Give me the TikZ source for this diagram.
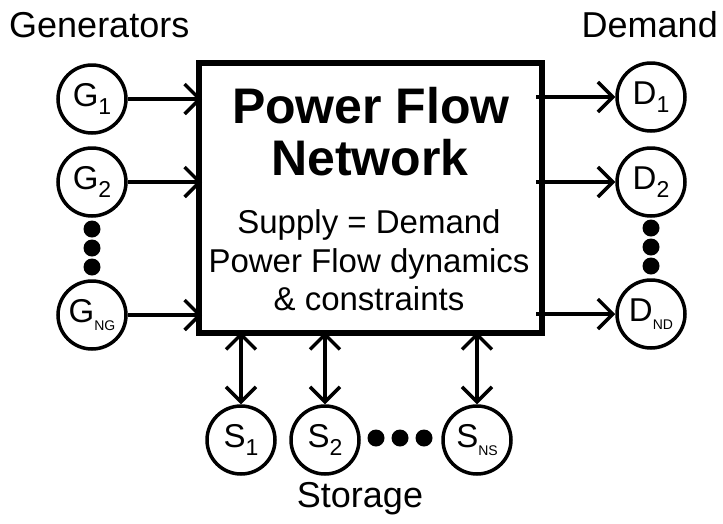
\documentclass[tikz,border=0pt]{standalone}
\usepackage{fontspec}
\setmainfont{Liberation Sans}
\usetikzlibrary{arrows.meta,calc}
\newcommand\lblsub[2]{#1\raisebox{-8pt}{\fontsize{23}{23}\selectfont #2}}
\newcommand\lblsmall[2]{#1\raisebox{-8pt}{\fontsize{14}{14}\selectfont #2}}
\tikzset{
  unit/.style={circle,draw,line width=3.5pt,minimum size=68pt,inner sep=0pt,font=\fontsize{33}{33}\selectfont},
  netbox/.style={rectangle,draw,line width=6pt,minimum width=343pt,minimum height=270pt,inner sep=0pt},
  tipb/.tip={Straight Barb[length=15pt,width=30pt,line width=3.5pt]},
  arr/.style={line width=3.5pt,-tipb},
  darr/.style={line width=3.5pt,tipb-tipb},
  dot/.style={circle,fill,inner sep=0pt,minimum size=17pt},
  heading/.style={inner sep=0pt,font=\fontsize{36}{36}\selectfont},
  titletxt/.style={inner sep=0pt,anchor=base,font=\fontsize{50}{50}\selectfont\bfseries},
  bodytxt/.style={inner sep=0pt,anchor=base,font=\fontsize{33}{33}\selectfont}
}
\begin{document}
\begin{tikzpicture}[x=1pt,y=-1pt]
\useasboundingbox (0,0) rectangle (723,523);
% headings
\node[heading,anchor=base west] (hg) at (9,37) {Generators};
\node[heading,anchor=base east] (hd) at (718,37) {Demand};
\node[heading,anchor=base] (hs) at (360,507) {Storage};
% network box
\node[netbox] (net) at (370.5,198) {};
\node[titletxt] (t1) at (371,123) {Power Flow};
\node[titletxt] (t2) at (370,175) {Network};
\node[bodytxt] (b1) at (369,233) {Supply = Demand};
\node[bodytxt] (b2) at (369,272) {Power Flow dynamics};
\node[bodytxt] (b3) at (369,310) {\& constraints};
% generators
\node[unit] (G1) at (92,99) {\lblsub{G}{1}};
\node[unit] (G2) at (92,182) {\lblsub{G}{2}};
\node[unit] (GN) at (92,315) {\lblsmall{G}{NG}};
\node[dot] (gd1) at (92,229) {};
\node[dot] (gd2) at (92,248) {};
\node[dot] (gd3) at (92,267) {};
% demand
\node[unit] (D1) at (651,97) {\lblsub{D}{1}};
\node[unit] (D2) at (651,182) {\lblsub{D}{2}};
\node[unit] (DN) at (651,314) {\lblsmall{D}{ND}};
\node[dot] (dd1) at (651,228) {};
\node[dot] (dd2) at (651,247) {};
\node[dot] (dd3) at (651,266) {};
% storage
\node[unit] (S1) at (241,440) {\lblsub{S}{1}};
\node[unit] (S2) at (325,440) {\lblsub{S}{2}};
\node[unit] (SN) at (477,440) {\lblsmall{S}{NS}};
\node[dot] (sd1) at (376,438) {};
\node[dot] (sd2) at (400,438) {};
\node[dot] (sd3) at (424,438) {};
% connectors
\draw[arr] (G1) -- ($(net.west |- G1)+(6,0)$);
\draw[arr] (G2) -- ($(net.west |- G2)+(6,0)$);
\draw[arr] (GN) -- ($(net.west |- GN)+(6,0)$);
\draw[arr] ($(net.east |- D1)+(-9,0)$) -- (D1);
\draw[arr] ($(net.east |- D2)+(-9,0)$) -- (D2);
\draw[arr] ($(net.east |- DN)+(-9,0)$) -- (DN);
\draw[darr] ($(net.south -| S1)+(0,-4)$) -- (S1);
\draw[darr] ($(net.south -| S2)+(0,-4)$) -- (S2);
\draw[darr] ($(net.south -| SN)+(0,-4)$) -- (SN);
\end{tikzpicture}
\end{document}
